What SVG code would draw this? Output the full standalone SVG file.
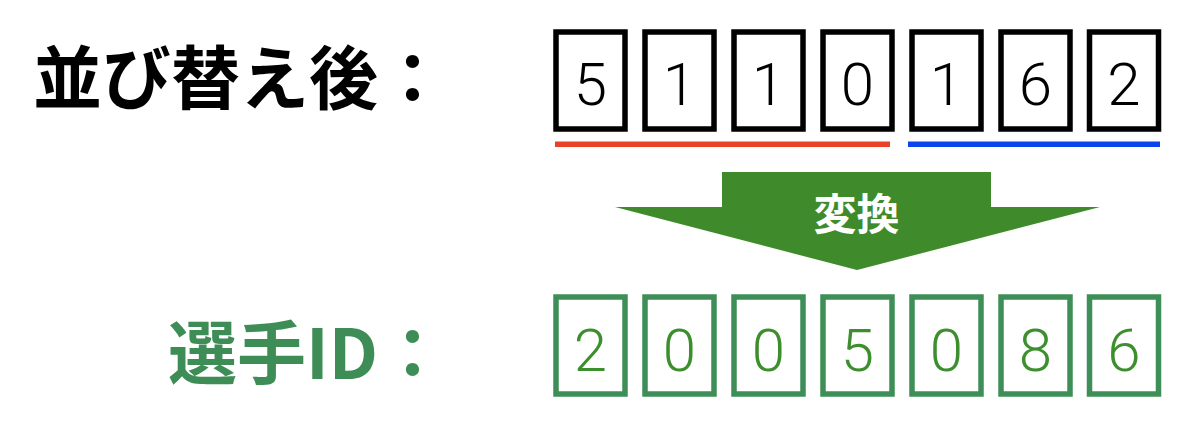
<svg xmlns="http://www.w3.org/2000/svg" width="1200" height="432" viewBox="0 0 1200 432">
<style>
.lbl{font-family:"Noto Sans CJK JP","Noto Sans CJK SC",sans-serif;font-weight:700;font-size:69px;text-anchor:end}
.box{fill:#fff;stroke-width:5.5}
.top .box{stroke:#000}
.bot .box{stroke:#3e8e57}
.dg{font-family:Roboto,"Liberation Sans",sans-serif;font-weight:300;font-size:60px;text-anchor:middle}
.top .dg{fill:#000}
.bot .dg{fill:#3d8f2d}
</style>
<rect width="1200" height="432" fill="#fff"/>
<g id="label-sorted"><text class="lbl" x="447" y="104" fill="#000">並び替え後：</text></g>
<g id="label-id"><text class="lbl" x="447" y="379" fill="#3e8d57">選手ID：</text></g>
<g id="sorted" class="top">
<g id="s1"><rect class="box" x="556" y="32" width="69" height="97"/><text class="dg" x="590.5" y="105">5</text></g>
<g id="s2"><rect class="box" x="645" y="32" width="69" height="97"/><text class="dg" x="679.5" y="105">1</text></g>
<g id="s3"><rect class="box" x="734" y="32" width="69" height="97"/><text class="dg" x="768.5" y="105">1</text></g>
<g id="s4"><rect class="box" x="823" y="32" width="69" height="97"/><text class="dg" x="857.5" y="105">0</text></g>
<g id="s5"><rect class="box" x="912" y="32" width="69" height="97"/><text class="dg" x="946.5" y="105">1</text></g>
<g id="s6"><rect class="box" x="1001" y="32" width="69" height="97"/><text class="dg" x="1035.5" y="105">6</text></g>
<g id="s7"><rect class="box" x="1089.5" y="32" width="69" height="97"/><text class="dg" x="1124" y="105">2</text></g>
</g>
<g id="underlines">
<rect x="555" y="141.5" width="335" height="5.5" fill="#ea4129"/>
<rect x="908" y="141.5" width="252" height="5.5" fill="#0b44ea"/>
</g>
<g id="connectors">
<g id="arrow-convert">
<polygon points="722,172 991,172 991,207 1100,207 857,270 615,207 722,207" fill="#3f8b2b"/>
<text x="856.5" y="230" font-family="Noto Sans CJK JP,Noto Sans CJK SC,sans-serif" font-weight="700" font-size="43" fill="#fff" text-anchor="middle">変換</text>
</g>
</g>
<g id="player-id" class="bot">
<g id="p1"><rect class="box" x="556" y="297" width="69" height="97"/><text class="dg" x="590.5" y="371">2</text></g>
<g id="p2"><rect class="box" x="645" y="297" width="69" height="97"/><text class="dg" x="679.5" y="371">0</text></g>
<g id="p3"><rect class="box" x="734" y="297" width="69" height="97"/><text class="dg" x="768.5" y="371">0</text></g>
<g id="p4"><rect class="box" x="823" y="297" width="69" height="97"/><text class="dg" x="857.5" y="371">5</text></g>
<g id="p5"><rect class="box" x="912" y="297" width="69" height="97"/><text class="dg" x="946.5" y="371">0</text></g>
<g id="p6"><rect class="box" x="1001" y="297" width="69" height="97"/><text class="dg" x="1035.5" y="371">8</text></g>
<g id="p7"><rect class="box" x="1089.5" y="297" width="69" height="97"/><text class="dg" x="1124" y="371">6</text></g>
</g>
</svg>
